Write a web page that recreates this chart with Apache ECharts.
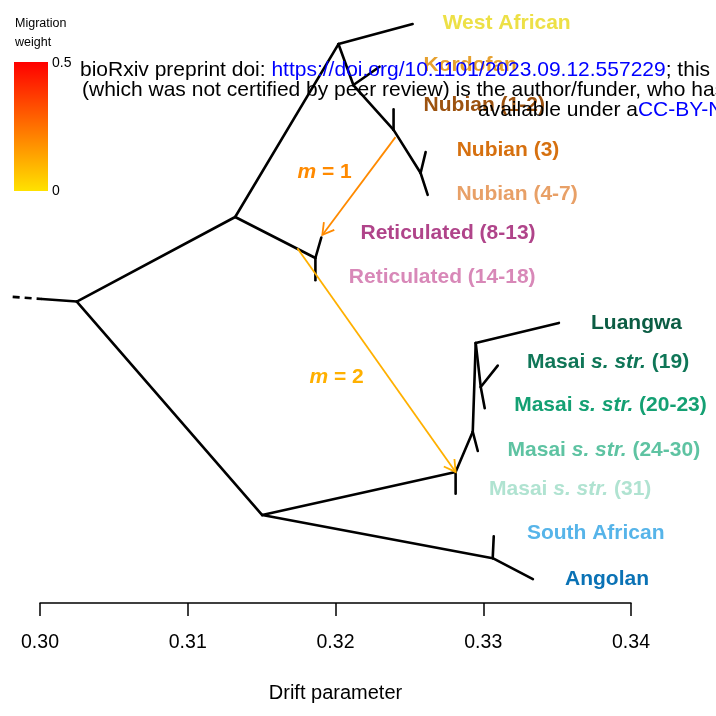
<!DOCTYPE html>
<html><head><meta charset="utf-8">
<script src="https://cdn.jsdelivr.net/npm/echarts@6/dist/echarts.min.js"></script>
<style>html,body{margin:0;padding:0;background:#fff}#c{width:716px;height:716px}</style>
</head><body><div id="c"></div>
<script>
// ---------- DATA ----------
const leafNames = ['West African','Kordofan','Nubian (1-2)','Nubian (3)','Nubian (4-7)','Reticulated (8-13)','Reticulated (14-18)','Luangwa','Masai s. str. (19)','Masai s. str. (20-23)','Masai s. str. (24-30)','Masai s. str. (31)','South African','Angolan'];
const leafDrift = [0.32522,0.32298,0.32393,0.32610,0.32624,0.31904,0.31864,0.33512,0.33098,0.33010,0.32963,0.32813,0.33071,0.33336];
const leafRow   = [0,1,2,3,4,5,6,7,8,9,10,11,12,13];

const nodeIds   = ['root','A','B','C','D','E','F','G','H','I','J','K','L'];
const nodeDrift = [0.30249,0.31321,0.32020,0.32121,0.32393,0.32576,0.31864,0.31504,0.32813,0.32929,0.32949,0.32983,0.33064];
const nodeRow   = [6.5,4.52,0.47,1.43,2.48,3.49,5.48,11.5,10.49,9.55,7.47,8.5,12.51];

const edges = [
  ['root','A'],['root','G'],
  ['A','B'],['A','F'],
  ['B','West African'],['B','C'],
  ['C','Kordofan'],['C','D'],
  ['D','Nubian (1-2)'],['D','E'],
  ['E','Nubian (3)'],['E','Nubian (4-7)'],
  ['F','Reticulated (8-13)'],['F','Reticulated (14-18)'],
  ['G','H'],['G','L'],
  ['H','Masai s. str. (31)'],['H','I'],
  ['I','Masai s. str. (24-30)'],['I','J'],
  ['J','Luangwa'],['J','K'],
  ['K','Masai s. str. (19)'],['K','Masai s. str. (20-23)'],
  ['L','South African'],['L','Angolan']
];
// root stem: truncated (dashed) part and solid part
const stemDrift = [0.29815, 0.30012];
const stemRow   = [6.39, 6.44];

const migNames     = ['m = 1','m = 2'];
const migFromDrift = [0.32406, 0.31742];
const migFromRow   = [2.65, 5.25];
const migToDrift   = [0.31911, 0.32813];
const migToRow     = [4.94, 10.49];
const migWeight    = [0.195, 0.11];

const xTicks = [0.30,0.31,0.32,0.33,0.34];

// ---------- LAYOUT / STYLE ----------
const labelDrift = [0.32725,0.32596,0.32596,0.32820,0.32818,0.32169,0.32090,0.33729,0.33295,0.33209,0.33164,0.33039,0.33295,0.33553];
const labelRow   = [-0.03,0.96,1.90,2.95,3.99,4.91,5.94,7.00,7.93,8.93,9.99,10.90,11.92,13.0];
const leafColors = ['#EDE046','#E6A02E','#9C520F','#D6700F','#E8A067','#B0448A','#D888B8','#0B5C43','#0F7657','#14A073','#5EC3A2','#B0E3D1','#56B4E9','#0A72B5'];
const migLabelDrift = [0.31742, 0.31823];
const migLabelRow   = [3.47, 8.27];

const F = 'Liberation Sans, Arial, Helvetica, sans-serif';
const YEL = [255,226,0], RED = [255,0,0];
function heat(w){ const t = Math.max(0,Math.min(1,w/0.5));
  const c = YEL.map((v,i)=>Math.round(v+(RED[i]-v)*t)); return 'rgb('+c.join(',')+')'; }

// ---------- BUILD ----------
const pos = {};
leafNames.forEach((n,i)=>pos[n]=[leafDrift[i],leafRow[i]]);
nodeIds.forEach((n,i)=>pos[n]=[nodeDrift[i],nodeRow[i]]);
const edgeData = edges.map(e=>[pos[e[0]][0],pos[e[0]][1],pos[e[1]][0],pos[e[1]][1]]);
edgeData.push([stemDrift[1],stemRow[1],pos.root[0],pos.root[1]]);
const dashData = [[stemDrift[0],stemRow[0],stemDrift[1],stemRow[1]]];
const migData = migNames.map((n,i)=>[migFromDrift[i],migFromRow[i],migToDrift[i],migToRow[i],migWeight[i]]);

function edgeItem(dash){ return function(params, api){
  const a = api.coord([api.value(0), api.value(1)]);
  const b = api.coord([api.value(2), api.value(3)]);
  return {type:'line', shape:{x1:a[0],y1:a[1],x2:b[0],y2:b[1]},
    style:{stroke:'#000', lineWidth:2.6, lineCap: dash?'butt':'round', lineDash: dash?[7,5]:null}};
};}
function migItem(params, api){
  const a = api.coord([api.value(0), api.value(1)]);
  const b = api.coord([api.value(2), api.value(3)]);
  const col = heat(api.value(4));
  const ang = Math.atan2(b[1]-a[1], b[0]-a[0]);
  const L = 13, th = Math.PI/6;
  const w1 = [b[0]-L*Math.cos(ang-th), b[1]-L*Math.sin(ang-th)];
  const w2 = [b[0]-L*Math.cos(ang+th), b[1]-L*Math.sin(ang+th)];
  return {type:'group', children:[
    {type:'line', shape:{x1:a[0],y1:a[1],x2:b[0],y2:b[1]}, style:{stroke:col,lineWidth:1.8}},
    {type:'polyline', shape:{points:[w1,b,w2]}, style:{stroke:col,lineWidth:1.8,fill:null}}
  ]};
}

const leafLabelData = leafNames.map((n,i)=>{
  let txt;
  if (n.indexOf('s. str.')>=0){ const m = n.split('s. str.'); txt = '{b|'+m[0]+'}{i|s. str.}{b|'+m[1]+'}'; }
  else txt = '{b|'+n+'}';
  const st = {fontFamily:F, fontSize:21, fontWeight:'bold', color:leafColors[i], opacity:1};
  return {name:n, value:[labelDrift[i],labelRow[i]],
    label:{show:true, position:'right', distance:0, opacity:1, formatter:txt,
      rich:{b:Object.assign({},st), i:Object.assign({fontStyle:'italic'},st)}}};
});
const migLabelData = migNames.map((n,i)=>{
  const st = {fontFamily:F, fontSize:21, fontWeight:'bold', color:heat(migWeight[i]), opacity:1};
  const parts = n.split(' ');
  return {name:n, value:[migLabelDrift[i],migLabelRow[i]],
    label:{show:true, position:'right', distance:0, opacity:1, formatter:'{i|'+parts[0]+'}{b| '+parts.slice(1).join(' ')+'}',
      rich:{b:Object.assign({},st), i:Object.assign({fontStyle:'italic'},st)}}};
});

const chart = echarts.init(document.getElementById('c'), null, {renderer:'canvas'});
chart.setOption({
  animation:false,
  backgroundColor:'#fff',
  grid:{left:40, right:85, top:0, bottom:113},
  xAxis:{type:'value', position:'bottom', min:xTicks[0], max:xTicks[xTicks.length-1], interval:0.01,
    axisLine:{show:true, onZero:false, lineStyle:{color:'#000', width:1.5}},
    axisTick:{show:true, length:13, lineStyle:{color:'#000', width:1.5}},
    axisLabel:{formatter:v=>v.toFixed(2), color:'#000', fontSize:19.5, fontFamily:F, margin:30},
    splitLine:{show:false},
    name:'Drift parameter', nameLocation:'middle', nameGap:80,
    nameTextStyle:{color:'#000', fontSize:20, fontFamily:F}},
  yAxis:{type:'value', inverse:true, min:-0.562, max:13.56, show:false},
  series:[
    {type:'custom', renderItem:edgeItem(false), data:edgeData, encode:{x:[0,2],y:[1,3]}, clip:false, silent:true},
    {type:'custom', renderItem:edgeItem(true), data:dashData, encode:{x:[0,2],y:[1,3]}, clip:false, silent:true},
    {type:'custom', renderItem:migItem, data:migData, encode:{x:[0,2],y:[1,3]}, clip:false, silent:true, z:3},
    {type:'scatter', symbolSize:0.1, itemStyle:{color:'rgba(0,0,0,0)', opacity:1}, data:leafLabelData, z:4, silent:true},
    {type:'scatter', symbolSize:0.1, itemStyle:{color:'rgba(0,0,0,0)', opacity:1}, data:migLabelData, z:4, silent:true}
  ],
  graphic:[
    {type:'text', left:15, top:17, style:{text:'Migration', font:'12.5px '+F, fill:'#000'}},
    {type:'text', left:15, top:36, style:{text:'weight', font:'12.5px '+F, fill:'#000'}},
    {type:'rect', shape:{x:14,y:62,width:34,height:129}, style:{fill:new echarts.graphic.LinearGradient(0,0,0,1,[{offset:0,color:heat(0.5)},{offset:1,color:heat(0)}])}},
    {type:'text', x:52, y:63, style:{text:'0.5', font:'14px '+F, fill:'#000', verticalAlign:'middle'}},
    {type:'text', x:52, y:191, style:{text:'0', font:'14px '+F, fill:'#000', verticalAlign:'middle'}},
    {type:'text', x:80, y:70, z:100, style:{verticalAlign:'middle', font:'21px '+F,
      text:'{k|bioRxiv preprint doi: }{u|https://doi.org/10.1101/2023.09.12.557229}{k|; this version}',
      rich:{k:{fill:'#000', font:'21px '+F}, u:{fill:'#0000FF', font:'21px '+F}}}},
    {type:'text', x:82, y:90, z:100, style:{verticalAlign:'middle', font:'21px '+F, fill:'#000',
      text:'(which was not certified by peer review) is the author/funder, who has granted'}},
    {type:'text', x:478, y:110, z:100, style:{verticalAlign:'middle', font:'21px '+F,
      text:'{k|available under a}{u|CC-BY-NC-ND 4.0}',
      rich:{k:{fill:'#000', font:'21px '+F}, u:{fill:'#0000FF', font:'21px '+F}}}}
  ]
});
</script></body></html>
